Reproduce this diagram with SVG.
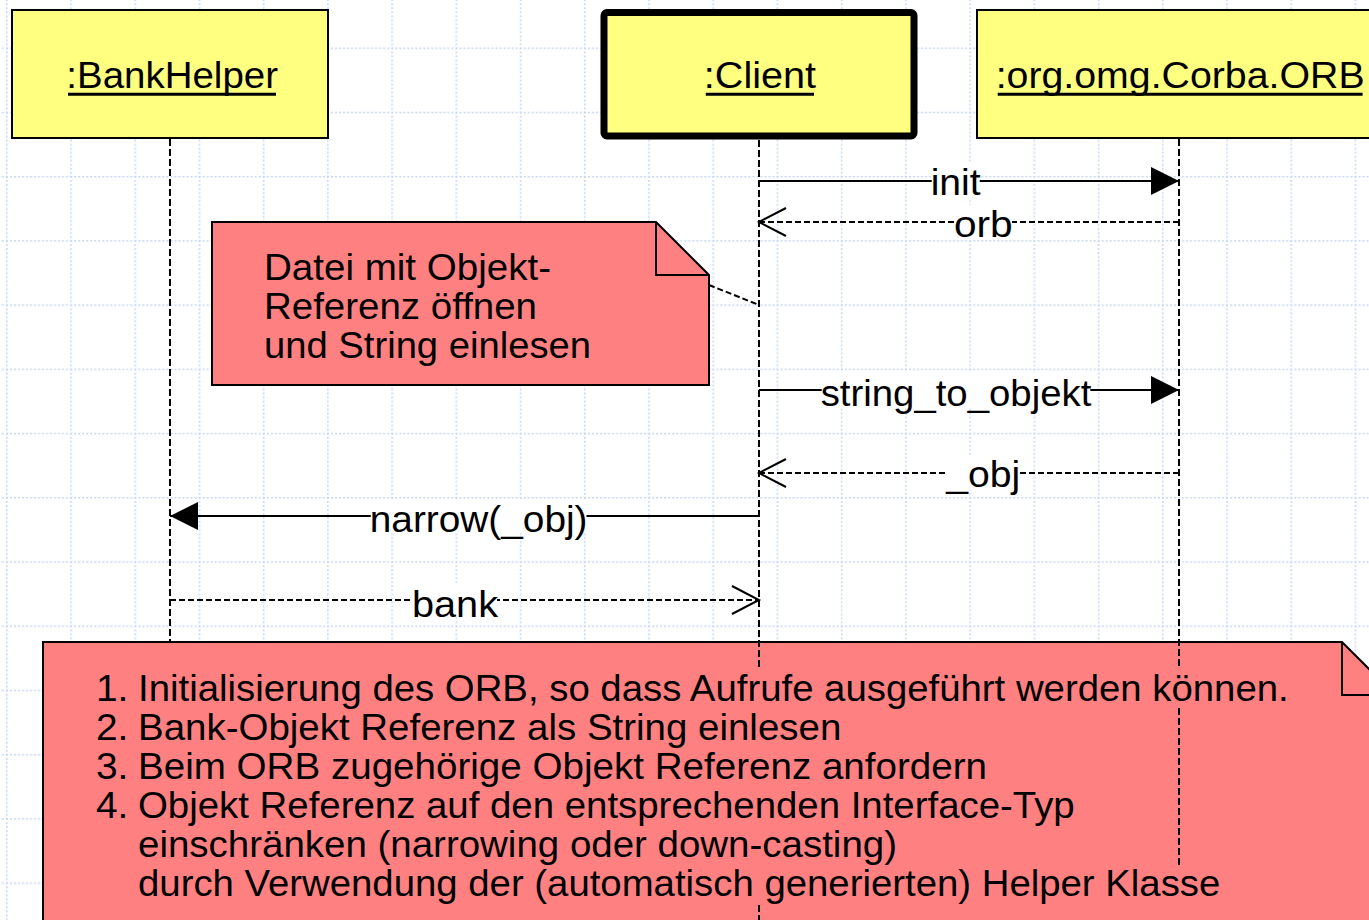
<svg xmlns="http://www.w3.org/2000/svg" width="1369" height="920" viewBox="0 0 1369 920">
  <style>
    text { font-family: "Liberation Sans", Arial, Helvetica, sans-serif; font-size: 36px; fill: #000; }
    .obj { fill: #ffff80; stroke: #000; stroke-width: 2; }
    .obj-active { fill: #ffff80; stroke: #000; stroke-width: 7; }
    .note { fill: #ff8080; stroke: #000; stroke-width: 2; }
    .fold { fill: none; stroke: #000; stroke-width: 2; }
    .uline { stroke: #000; stroke-width: 3; }
    .life { fill: none; stroke: #000; stroke-width: 2; stroke-dasharray: 7 3; }
    .call { fill: none; stroke: #000; stroke-width: 2; }
    .ret { fill: none; stroke: #000; stroke-width: 2; stroke-dasharray: 6 3; }
    .lblbg { fill: #fff; }
    .gridline { stroke: #c6d5f5; stroke-width: 1.5; stroke-dasharray: 2 2; }
  </style>
  <defs>
    <pattern id="grid" patternUnits="userSpaceOnUse" x="6" y="47.5" width="64.22" height="64.22">
      <path class="gridline" d="M0,0.8 H64.22"/>
      <path class="gridline" d="M0.8,0 V64.22"/>
    </pattern>
    <marker id="head-solid" markerUnits="userSpaceOnUse" markerWidth="30" markerHeight="30" refX="28" refY="14" orient="auto" overflow="visible">
      <path d="M0,0 L28,14 L0,28 Z" fill="#000"/>
    </marker>
    <marker id="head-open" markerUnits="userSpaceOnUse" markerWidth="30" markerHeight="30" refX="27" refY="14" orient="auto" overflow="visible">
      <path d="M0,0 L27,14 L0,28" fill="none" stroke="#000" stroke-width="2" stroke-dasharray="none"/>
    </marker>
  </defs>

  <!-- canvas -->
  <rect x="0" y="0" width="1369" height="920" fill="#fff"/>
  <rect x="0" y="0" width="1369" height="920" fill="url(#grid)"/>

  <!-- objects -->
  <g id="bankhelper">
    <rect class="obj" x="12" y="10" width="316" height="128"/>
    <text x="66.3" y="88" textLength="211.7" lengthAdjust="spacingAndGlyphs">:BankHelper</text>
    <line class="uline" x1="68" y1="94.3" x2="276" y2="94.3"/>
  </g>

  <g id="client">
    <rect class="obj-active" x="604" y="12.5" width="310" height="123.5" rx="3"/>
    <text x="703.8" y="87.5" textLength="112.2" lengthAdjust="spacingAndGlyphs">:Client</text>
    <line class="uline" x1="705.8" y1="94.3" x2="814" y2="94.3"/>
  </g>

  <g id="orb">
    <rect class="obj" x="977" y="10" width="420" height="128"/>
    <text x="995.7" y="87.5" textLength="368.9" lengthAdjust="spacingAndGlyphs">:org.omg.Corba.ORB</text>
    <line class="uline" x1="997.7" y1="94.3" x2="1362.6" y2="94.3"/>
  </g>

  <!-- note attached to the client lifeline -->
  <g id="note-read-ref">
    <path class="note" d="M212,222 H656 L709,275 V385 H212 Z"/>
    <path class="fold" d="M656,222 V275 H709"/>
    <text x="264" y="279.5" textLength="287" lengthAdjust="spacingAndGlyphs">Datei mit Objekt-</text>
    <text x="264" y="318.8" textLength="273" lengthAdjust="spacingAndGlyphs">Referenz öffnen</text>
    <text x="264" y="358" textLength="327" lengthAdjust="spacingAndGlyphs">und String einlesen</text>
  </g>

  <!-- summary note -->
  <g id="note-steps">
    <path class="note" d="M43,642 H1342 L1395,695 V940 H43 Z"/>
    <path class="fold" d="M1342,642 V695 H1395"/>
    <text x="96" y="700.7" textLength="32.4" lengthAdjust="spacingAndGlyphs">1.</text>
    <text x="138" y="700.7" textLength="1150.7" lengthAdjust="spacingAndGlyphs">Initialisierung des ORB, so dass Aufrufe ausgeführt werden können.</text>
    <text x="96" y="739.6" textLength="32.4" lengthAdjust="spacingAndGlyphs">2.</text>
    <text x="138" y="739.6" textLength="703.3" lengthAdjust="spacingAndGlyphs">Bank-Objekt Referenz als String einlesen</text>
    <text x="96" y="778.7" textLength="32.4" lengthAdjust="spacingAndGlyphs">3.</text>
    <text x="138" y="778.7" textLength="849" lengthAdjust="spacingAndGlyphs">Beim ORB zugehörige Objekt Referenz anfordern</text>
    <text x="96" y="817.8" textLength="32.4" lengthAdjust="spacingAndGlyphs">4.</text>
    <text x="138" y="817.8" textLength="936.7" lengthAdjust="spacingAndGlyphs">Objekt Referenz auf den entsprechenden Interface-Typ</text>
    <text x="138" y="856.9" textLength="759" lengthAdjust="spacingAndGlyphs">einschränken (narrowing oder down-casting)</text>
    <text x="138" y="896" textLength="1082.3" lengthAdjust="spacingAndGlyphs">durch Verwendung der (automatisch generierten) Helper Klasse</text>
  </g>

  <!-- lifelines, messages and note anchor -->
  <g id="connectors">
    <path class="life" d="M170,139 V642"/>
    <path class="life" d="M759,140 V668 M759,905 V920"/>
    <path class="life" d="M1179,139 V668 M1179,708 V865"/>

    <path class="ret" d="M709,285 L759,305"/>

    <g id="msg-init">
      <path class="call" d="M759,181 H1179" marker-end="url(#head-solid)"/>
      <rect class="lblbg" x="931.7" y="164" width="48" height="34"/>
      <text x="930.7" y="195" textLength="50" lengthAdjust="spacingAndGlyphs">init</text>
    </g>
    <g id="msg-orb">
      <path class="ret" d="M1179,222 H759" marker-end="url(#head-open)"/>
      <rect class="lblbg" x="955" y="205" width="57" height="34"/>
      <text x="954" y="237" textLength="58.7" lengthAdjust="spacingAndGlyphs">orb</text>
    </g>
    <g id="msg-string-to-objekt">
      <path class="call" d="M759,390 H1179" marker-end="url(#head-solid)"/>
      <rect class="lblbg" x="821.7" y="373" width="268.6" height="34"/>
      <text x="820.7" y="405.5" textLength="270.6" lengthAdjust="spacingAndGlyphs">string_to_objekt</text>
    </g>
    <g id="msg-obj">
      <path class="ret" d="M1179,473 H759" marker-end="url(#head-open)"/>
      <rect class="lblbg" x="947.3" y="456" width="72" height="34"/>
      <text x="946.3" y="487" textLength="74" lengthAdjust="spacingAndGlyphs">_obj</text>
    </g>
    <g id="msg-narrow">
      <path class="call" d="M759,516 H170" marker-end="url(#head-solid)"/>
      <rect class="lblbg" x="370.8" y="499" width="215.7" height="34"/>
      <text x="369.8" y="531.5" textLength="217.7" lengthAdjust="spacingAndGlyphs">narrow(_obj)</text>
    </g>
    <g id="msg-bank">
      <path class="ret" d="M170,600 H759" marker-end="url(#head-open)"/>
      <rect class="lblbg" x="413" y="583" width="84" height="34"/>
      <text x="412" y="616.5" textLength="86" lengthAdjust="spacingAndGlyphs">bank</text>
    </g>
  </g>
</svg>
